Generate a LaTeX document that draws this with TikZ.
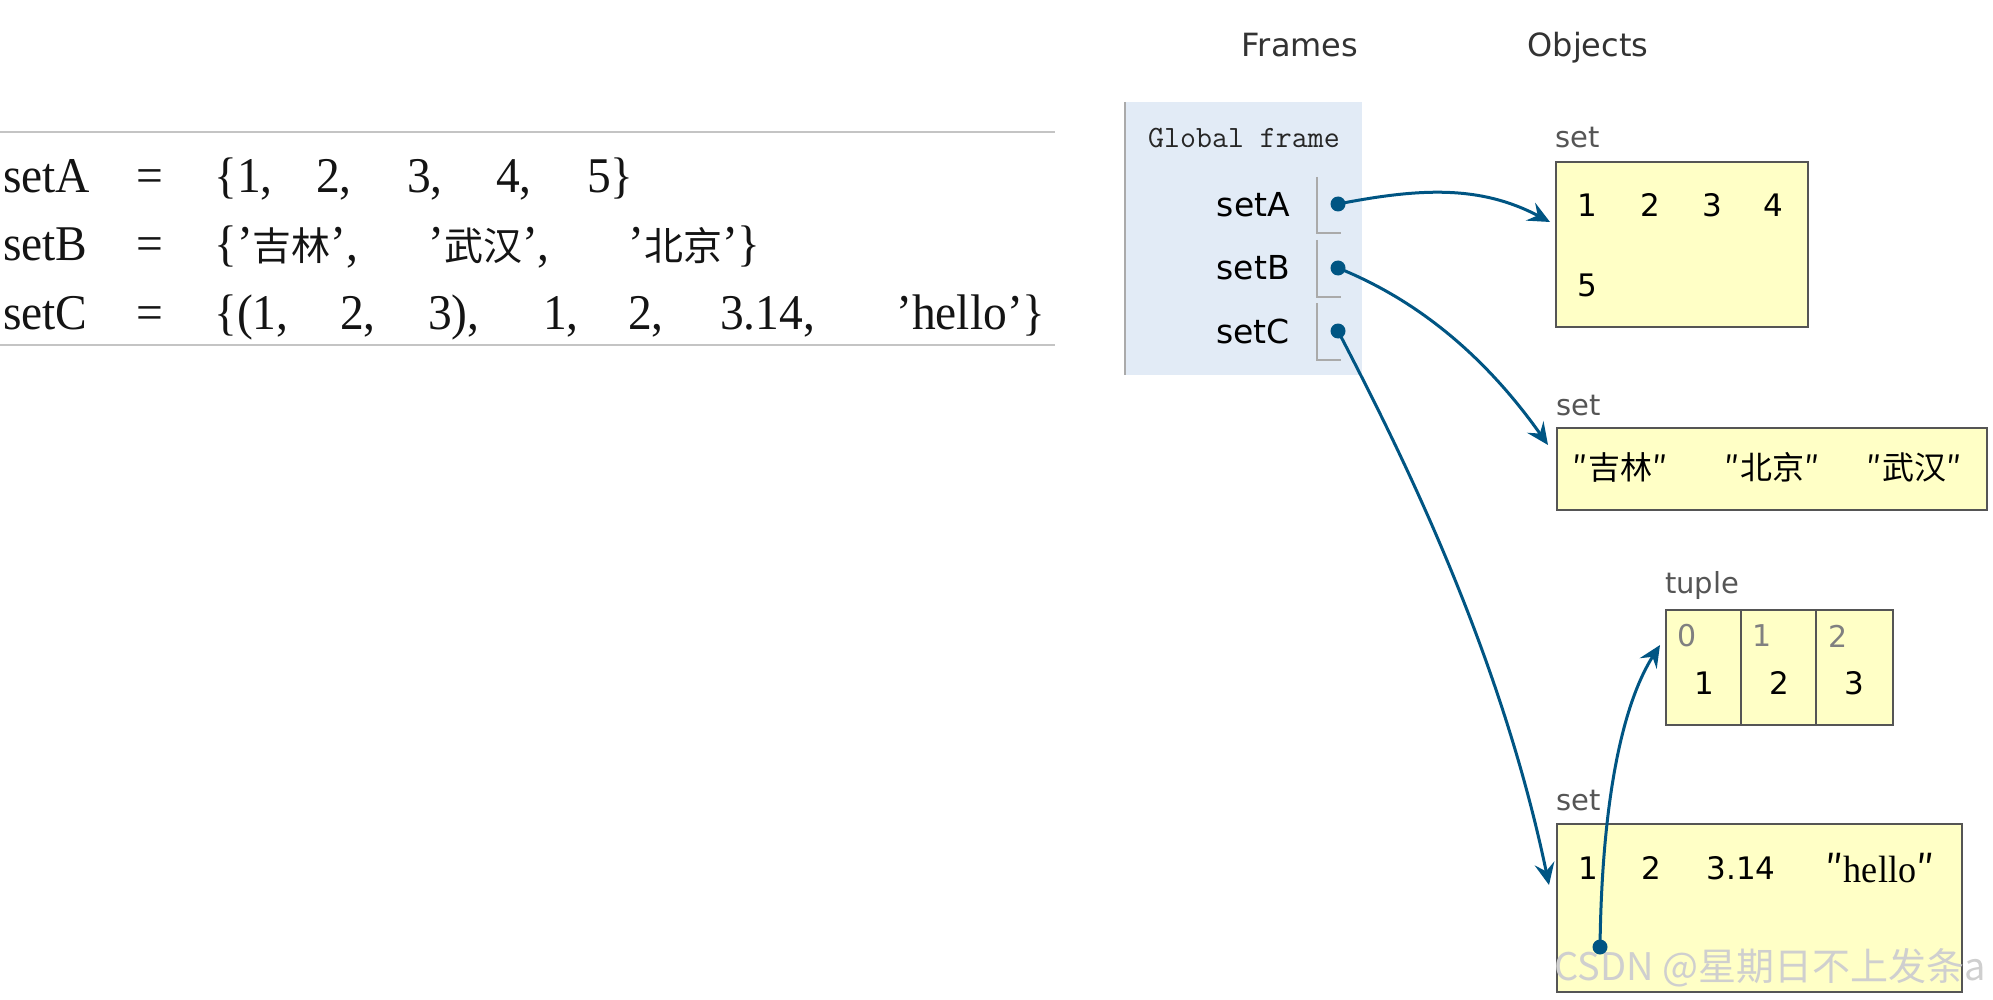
\documentclass[tikz,border=0pt]{standalone}
\usepackage{fontspec}
\usetikzlibrary{arrows.meta}
\newfontfamily\vd{DejaVu Sans}
\newfontfamily\cjk{Noto Sans CJK SC}
\newfontfamily\codefont[FakeStretch=0.95]{Liberation Serif}
\newcommand\cjkc{\cjk\fontsize{39}{48}\selectfont}
\newcommand\dq{{\cjk ″}}
\definecolor{ptblue}{HTML}{005583}
\definecolor{framebg}{HTML}{E2EBF6}
\definecolor{objbg}{HTML}{FFFFC6}
\definecolor{objborder}{HTML}{555555}
\definecolor{rulegray}{HTML}{C4C4C4}
\definecolor{labgray}{HTML}{555555}
\definecolor{hdgray}{HTML}{333333}
\definecolor{brkgray}{HTML}{AAAAAA}
\definecolor{codeink}{HTML}{141414}
\tikzset{
  codetok/.style={anchor=base west, inner sep=0pt, text=codeink, font=\codefont\fontsize{50}{54}\selectfont},
  header/.style={anchor=base, inner sep=0pt, text=hdgray, font=\vd\fontsize{32}{36}\selectfont},
  varname/.style={anchor=east, inner sep=0pt, font=\vd\fontsize{33}{36}\selectfont},
  objlabel/.style={anchor=base west, inner sep=0pt, text=labgray, font=\vd\fontsize{29}{32}\selectfont},
  objbox/.style={anchor=north west, inner sep=0pt, fill=objbg, draw=objborder, line width=2pt},
  item/.style={inner sep=0pt, font=\vd\fontsize{31}{34}\selectfont},
  idx/.style={inner sep=0pt, text=gray, font=\vd\fontsize{30}{32}\selectfont},
  cjkitem/.style={inner sep=0pt, font=\cjk\fontsize{32}{36}\selectfont},
  ptr/.style={draw=ptblue, line width=3pt, -{Stealth[length=22pt,width=20pt,inset=8pt]}},
  brk/.style={draw=brkgray, line width=2pt},
  dot/.style={fill=ptblue}
}
\begin{document}
\begin{tikzpicture}[x=1pt,y=-1pt]
\useasboundingbox (0,0) rectangle (1993,1000);
% code listing
\coordinate (r1a) at (0,132); \coordinate (r1b) at (1055,132);
\coordinate (r2a) at (0,345); \coordinate (r2b) at (1055,345);
\draw[rulegray, line width=2pt] (r1a) -- (r1b);
\draw[rulegray, line width=2pt] (r2a) -- (r2b);
\node[codetok] (a1) at (3,193) {setA};
\node[codetok] (a2) at (136,193) {=};
\node[codetok] (a3) at (214,193) {\{1,};
\node[codetok] (a4) at (316,193) {2,};
\node[codetok] (a5) at (407,193) {3,};
\node[codetok] (a6) at (496,193) {4,};
\node[codetok] (a7) at (587,193) {5\}};
\node[codetok] (b1) at (3,261) {setB};
\node[codetok] (b2) at (136,261) {=};
\node[codetok] (b3) at (214,261) {\{’{\cjkc 吉林}’,};
\node[codetok] (b4) at (428,261) {’{\cjkc 武汉}’,};
\node[codetok] (b5) at (628,261) {’{\cjkc 北京}’\}};
\node[codetok] (c1) at (3,329) {setC};
\node[codetok] (c2) at (136,329) {=};
\node[codetok] (c3) at (214,329) {\{(1,};
\node[codetok] (c4) at (340,329) {2,};
\node[codetok] (c5) at (428,329) {3),};
\node[codetok] (c6) at (543,329) {1,};
\node[codetok] (c7) at (628,329) {2,};
\node[codetok] (c8) at (720,329) {3.14,};
\node[codetok] (c9) at (896,329) {’hello’\}};
% headers
\node[header] (hF) at (1300,57) {Frames};
\node[header] (hO) at (1588,57) {Objects};
% global frame
\node[anchor=north west, inner sep=0pt, fill=framebg, minimum width=237pt, minimum height=273pt] (gf) at (1125,102) {};
\draw[brkgray, line width=2pt] (gf.north west) -- (gf.south west);
\node[inner sep=0pt, text=black!85, font=\ttfamily\fontsize{31}{34}\selectfont] (gft) at (1244,138) {Global frame};
\node[varname] (nA) at (1290,205) {setA};
\node[varname] (nB) at (1290,268) {setB};
\node[varname] (nC) at (1290,331) {setC};
\coordinate (kA1) at (1317,177); \coordinate (kA2) at (1341,233);
\coordinate (kB1) at (1317,240); \coordinate (kB2) at (1341,297);
\coordinate (kC1) at (1317,303); \coordinate (kC2) at (1341,360);
\draw[brk] (kA1) |- (kA2);
\draw[brk] (kB1) |- (kB2);
\draw[brk] (kC1) |- (kC2);
% objects
\node[objlabel] (lA) at (1555,148) {set};
\node[objbox, minimum width=252pt, minimum height=165pt] (oA) at (1555,161) {};
\node[item] (oA1) at (1587,205) {1};
\node[item] (oA2) at (1650,205) {2};
\node[item] (oA3) at (1712,205) {3};
\node[item] (oA4) at (1773,205) {4};
\node[item] (oA5) at (1587,285) {5};
\node[objlabel] (lB) at (1556,415) {set};
\node[objbox, minimum width=430pt, minimum height=82pt] (oB) at (1556,427) {};
\node[cjkitem] (oB1) at (1620,467) {\dq 吉林\dq};
\node[cjkitem] (oB2) at (1772,467) {\dq 北京\dq};
\node[cjkitem] (oB3) at (1914,467) {\dq 武汉\dq};
\node[objlabel] (lT) at (1665,593) {tuple};
\node[objbox, minimum width=227pt, minimum height=115pt] (oT) at (1665,609) {};
\coordinate (tv1a) at (1741,609); \coordinate (tv1b) at (1741,724);
\coordinate (tv2a) at (1816,609); \coordinate (tv2b) at (1816,724);
\draw[objborder, line width=2pt] (tv1a) -- (tv1b);
\draw[objborder, line width=2pt] (tv2a) -- (tv2b);
\node[idx] (i0) at (1687,636) {0};
\node[idx] (i1) at (1762,636) {1};
\node[idx] (i2) at (1838,636) {2};
\node[item] (v0) at (1704,683) {1};
\node[item] (v1) at (1779,683) {2};
\node[item] (v2) at (1854,683) {3};
\node[objlabel] (lC) at (1556,810) {set};
\node[objbox, minimum width=405pt, minimum height=168pt] (oC) at (1556,823) {};
\node[item] (oC1) at (1588,868) {1};
\node[item] (oC2) at (1651,868) {2};
\node[item] (oC3) at (1741,868) {3.14};
\node[inner sep=0pt, font=\codefont\fontsize{38}{40}\selectfont] (oC4) at (1880,868) {\dq hello\dq};
% watermark
\node[anchor=west, inner sep=0pt, text=gray!38, font=\cjk\fontsize{38}{42}\selectfont] (wm) at (1554,968) {CSDN @星期日不上发条a};
% pointers
\coordinate (dA) at (1338,204);
\coordinate (dB) at (1338,268);
\coordinate (dC) at (1338,331);
\coordinate (dD) at (1600,947);
\coordinate (tA) at (1550,222);
\coordinate (tB) at (1548,445);
\coordinate (tC) at (1549,885);
\coordinate (tD) at (1660,645);
\fill[dot] (dA) circle (7.5);
\fill[dot] (dB) circle (7.5);
\fill[dot] (dC) circle (7.5);
\fill[dot] (dD) circle (7.5);
\draw[ptr] (dA) .. controls (1420,188) and (1480,185) .. (tA);
\draw[ptr] (dB) .. controls (1430,305) and (1495,370) .. (tB);
\draw[ptr] (dC) .. controls (1400,450) and (1500,650) .. (tC);
\draw[ptr] (dD) .. controls (1602,790) and (1625,700) .. (tD);
\end{tikzpicture}
\end{document}
